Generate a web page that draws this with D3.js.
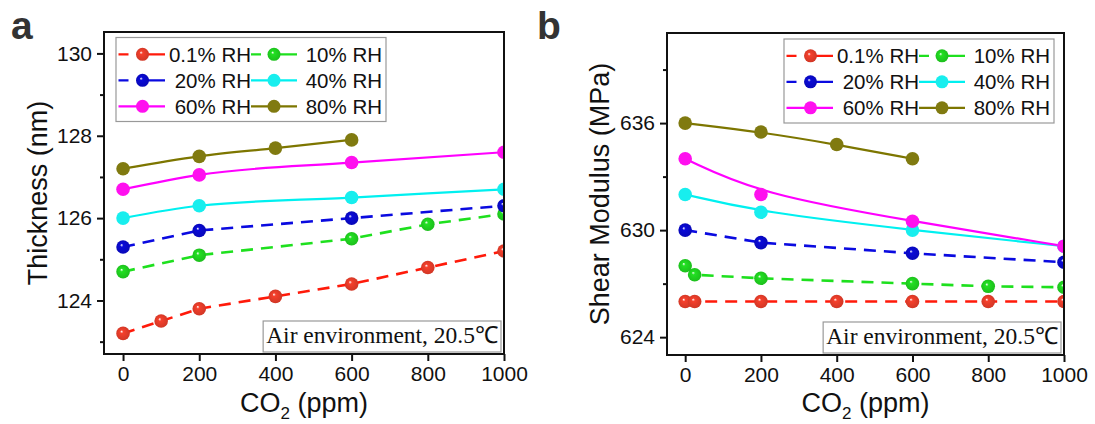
<!DOCTYPE html>
<html>
<head>
<meta charset="utf-8">
<script src="https://cdn.jsdelivr.net/npm/d3@7"></script>
<style>
  body { margin: 0; background: #fff; }
  svg { display: block; font-family: "Liberation Sans", Arial, sans-serif; }
</style>
</head>
<body>
<div id="plot"></div>
<script>
var width = 1095;
var height = 424;

// series names / styles order
var rhLabels = ["0.1% RH", "10% RH", "20% RH", "40% RH", "60% RH", "80% RH"];

// panel a: thickness (nm) vs CO2 (ppm)
var thick01X = [0, 100, 200, 400, 600, 800, 1000];
var thick01Y = [123.2, 123.5, 123.8, 124.1, 124.4, 124.8, 125.2];
var thick10X = [0, 200, 600, 800, 1000];
var thick10Y = [124.7, 125.1, 125.5, 125.85, 126.1];
var thick20X = [0, 200, 600, 1000];
var thick20Y = [125.3, 125.7, 126.0, 126.3];
var thick40X = [0, 200, 600, 1000];
var thick40Y = [126.0, 126.3, 126.5, 126.7];
var thick60X = [0, 200, 600, 1000];
var thick60Y = [126.7, 127.05, 127.35, 127.6];
var thick80X = [0, 200, 400, 600];
var thick80Y = [127.2, 127.5, 127.7, 127.9];

// panel b: shear modulus (MPa) vs CO2 (ppm)
var shear01X = [0, 25, 200, 400, 600, 800, 1000];
var shear01Y = [626.0, 626.0, 626.0, 626.0, 626.0, 626.0, 626.0];
var shear10X = [0, 25, 200, 600, 800, 1000];
var shear10Y = [628.0, 627.5, 627.3, 627.0, 626.85, 626.8];
var shear20X = [0, 200, 600, 1000];
var shear20Y = [630.0, 629.3, 628.7, 628.2];
var shear40X = [0, 200, 600, 1000];
var shear40Y = [632.0, 631.0, 630.0, 629.1];
var shear60X = [0, 200, 600, 1000];
var shear60Y = [634.0, 632.0, 630.5, 629.1];
var shear80X = [0, 200, 400, 600];
var shear80Y = [636.0, 635.5, 634.8, 634.0];

var xTicks = [0, 200, 400, 600, 800, 1000];
var thickTicks = [124, 126, 128, 130];
var thickMinor = [123, 125, 127, 129];
var shearTicks = [624, 630, 636];
var shearMinor = [627, 633, 639];

var styles = [
    { line: '#ff1a0a', fill: '#f5402c', dash: '12,8', ball: true },
    { line: '#1ee01e', fill: '#22e022', dash: '12,8', ball: true },
    { line: '#0a0ae0', fill: '#0a0ad8', dash: '12,8', ball: true },
    { line: '#00f0f0', fill: '#18eeee', dash: null, ball: false },
    { line: '#ff00ff', fill: '#ff10ef', dash: null, ball: false },
    { line: '#7d7600', fill: '#807a10', dash: null, ball: false }
];

function zip(xs, ys) {
    return xs.map(function(x, i) { return [x, ys[i]]; });
}

var thickSeries = [
    zip(thick01X, thick01Y), zip(thick10X, thick10Y), zip(thick20X, thick20Y),
    zip(thick40X, thick40Y), zip(thick60X, thick60Y), zip(thick80X, thick80Y)
];
var shearSeries = [
    zip(shear01X, shear01Y), zip(shear10X, shear10Y), zip(shear20X, shear20Y),
    zip(shear40X, shear40Y), zip(shear60X, shear60Y), zip(shear80X, shear80Y)
];

var canvas = d3.select('#plot')
    .append('svg')
    .attr('width', width)
    .attr('height', height);

var defs = canvas.append('defs');
styles.forEach(function(s, i) {
    if (!s.ball) return;
    var g = defs.append('radialGradient')
        .attr('id', 'ball' + i)
        .attr('cx', '50%').attr('cy', '50%').attr('r', '55%')
        .attr('fx', '38%').attr('fy', '35%');
    g.append('stop').attr('offset', '0%').attr('stop-color', '#ffffff').attr('stop-opacity', 0.9);
    g.append('stop').attr('offset', '22%').attr('stop-color', s.fill);
    g.append('stop').attr('offset', '100%').attr('stop-color', d3.color(s.fill).darker(0.5));
});

function markerFill(i) {
    return styles[i].ball ? 'url(#ball' + i + ')' : styles[i].fill;
}

function drawPanel(cfg) {
    var x = d3.scaleLinear().domain(cfg.xDomain).range([cfg.left, cfg.right]);
    var y = d3.scaleLinear().domain(cfg.yDomain).range([cfg.bottom, cfg.top]);
    var g = canvas.append('g');

    g.append('clipPath').attr('id', 'clip-' + cfg.id)
        .append('rect')
        .attr('x', cfg.left).attr('y', cfg.top)
        .attr('width', cfg.right - cfg.left).attr('height', cfg.bottom - cfg.top);

    // axes
    var yAxis = d3.axisLeft(y).tickValues(cfg.yTicks).tickSize(7).tickPadding(5).tickFormat(d3.format('d'));
    var yMinor = d3.axisLeft(y).tickValues(cfg.yMinor).tickSize(4).tickFormat('');
    var xAxis = d3.axisBottom(x).tickValues(xTicks).tickSize(7).tickPadding(5).tickFormat(d3.format('d'));

    [[yAxis, 'translate(' + cfg.left + ',0)'], [yMinor, 'translate(' + cfg.left + ',0)'],
     [xAxis, 'translate(0,' + cfg.bottom + ')']].forEach(function(a) {
        var ax = g.append('g').attr('transform', a[1]).call(a[0]);
        ax.select('.domain').remove();
        ax.selectAll('line').attr('stroke', '#111').attr('stroke-width', 2);
        ax.selectAll('text').attr('font-size', 21).attr('fill', '#111')
            .attr('font-family', '"Liberation Sans", Arial, sans-serif');
    });

    // lines and markers
    var plot = g.append('g').attr('clip-path', 'url(#clip-' + cfg.id + ')');
    cfg.series.forEach(function(data, i) {
        var s = styles[i];
        var line = d3.line()
            .x(function(d) { return x(d[0]); })
            .y(function(d) { return y(d[1]); })
            .curve(s.dash ? d3.curveLinear : cfg.solidCurve);
        plot.append('path')
            .attr('d', line(data))
            .attr('fill', 'none')
            .attr('stroke', s.line)
            .attr('stroke-width', s.dash ? 2.6 : 2.2)
            .attr('stroke-dasharray', s.dash);
    });
    cfg.series.forEach(function(data, i) {
        plot.selectAll('circle.s' + i)
            .data(data)
            .enter()
            .append('circle')
            .attr('class', 's' + i)
            .attr('cx', function(d) { return x(d[0]); })
            .attr('cy', function(d) { return y(d[1]); })
            .attr('r', 6.8)
            .attr('fill', markerFill(i));
    });

    // frame
    g.append('rect')
        .attr('x', cfg.left).attr('y', cfg.top)
        .attr('width', cfg.right - cfg.left).attr('height', cfg.bottom - cfg.top)
        .attr('fill', 'none').attr('stroke', '#111').attr('stroke-width', 2);

    // legend
    var lg = g.append('g').attr('transform', 'translate(' + cfg.legendX + ',' + cfg.legendY + ')');
    lg.append('rect')
        .attr('x', 0).attr('y', 0).attr('width', 270).attr('height', 84)
        .attr('fill', '#fff').attr('stroke', '#999').attr('stroke-width', 1.2);
    var cols = [{ l0: 2.5, l1: 49, m: 26.5, t: 135 }, { l0: 135, l1: 181, m: 158, t: 266 }];
    rhLabels.forEach(function(lab, i) {
        var c = cols[i % 2];
        var ry = 16.8 + 26 * Math.floor(i / 2);
        var s = styles[i];
        lg.append('line')
            .attr('x1', c.l0).attr('x2', c.l1).attr('y1', ry).attr('y2', ry)
            .attr('stroke', s.line).attr('stroke-width', 2.2)
            .attr('stroke-dasharray', s.dash ? '10,14,30,14,10' : null);
        lg.append('circle').attr('cx', c.m).attr('cy', ry).attr('r', 6.5).attr('fill', markerFill(i));
        lg.append('text')
            .attr('x', c.t).attr('y', ry + 7.5)
            .attr('text-anchor', 'end')
            .attr('font-size', 20.5).attr('fill', '#111')
            .text(lab);
    });

    // annotation box
    var ann = g.append('g');
    var t = ann.append('text')
        .attr('font-family', '"Liberation Serif", "Times New Roman", serif')
        .attr('font-size', 23.5).attr('fill', '#111')
        .attr('text-anchor', 'end')
        .attr('x', cfg.right - 6).attr('y', cfg.bottom - 11)
        .text('Air environment, 20.5\u2103');
    var bb = t.node().getBBox();
    ann.insert('rect', 'text')
        .attr('x', bb.x - 3).attr('y', cfg.bottom - 33)
        .attr('width', bb.width + 6).attr('height', 31)
        .attr('fill', '#fff').attr('stroke', '#999').attr('stroke-width', 1.2);

    // axis titles
    var xt = g.append('text')
        .attr('x', (cfg.left + cfg.right) / 2).attr('y', 412)
        .attr('text-anchor', 'middle').attr('font-size', 27).attr('fill', '#111');
    xt.append('tspan').text('CO');
    xt.append('tspan').attr('font-size', 17).attr('dy', 7).text('2');
    xt.append('tspan').attr('dy', -7).text(' (ppm)');

    g.append('text')
        .attr('transform', 'translate(' + cfg.yTitleX + ',' + ((cfg.top + cfg.bottom) / 2) + ') rotate(-90)')
        .attr('text-anchor', 'middle').attr('font-size', 27).attr('fill', '#111')
        .text(cfg.yTitle);

    // panel letter
    g.append('text')
        .attr('x', cfg.letterX).attr('y', 39)
        .attr('font-size', 39).attr('font-weight', 'bold').attr('fill', '#333')
        .text(cfg.id);
}

drawPanel({
    id: 'a', left: 104, right: 504, top: 32, bottom: 354,
    xDomain: [-50, 1000], yDomain: [122.7, 130.52],
    yTicks: thickTicks, yMinor: thickMinor,
    series: thickSeries, legendX: 116, legendY: 37.5,
    solidCurve: d3.curveMonotoneX,
    yTitle: 'Thickness (nm)', yTitleX: 47, letterX: 11
});

drawPanel({
    id: 'b', left: 667, right: 1064, top: 33, bottom: 355,
    xDomain: [-48, 1000], yDomain: [623.0, 641.05],
    yTicks: shearTicks, yMinor: shearMinor,
    series: shearSeries, legendX: 784, legendY: 39,
    solidCurve: d3.curveBasis,
    yTitle: 'Shear Modulus (MPa)', yTitleX: 609, letterX: 537
});
</script>
</body>
</html>
